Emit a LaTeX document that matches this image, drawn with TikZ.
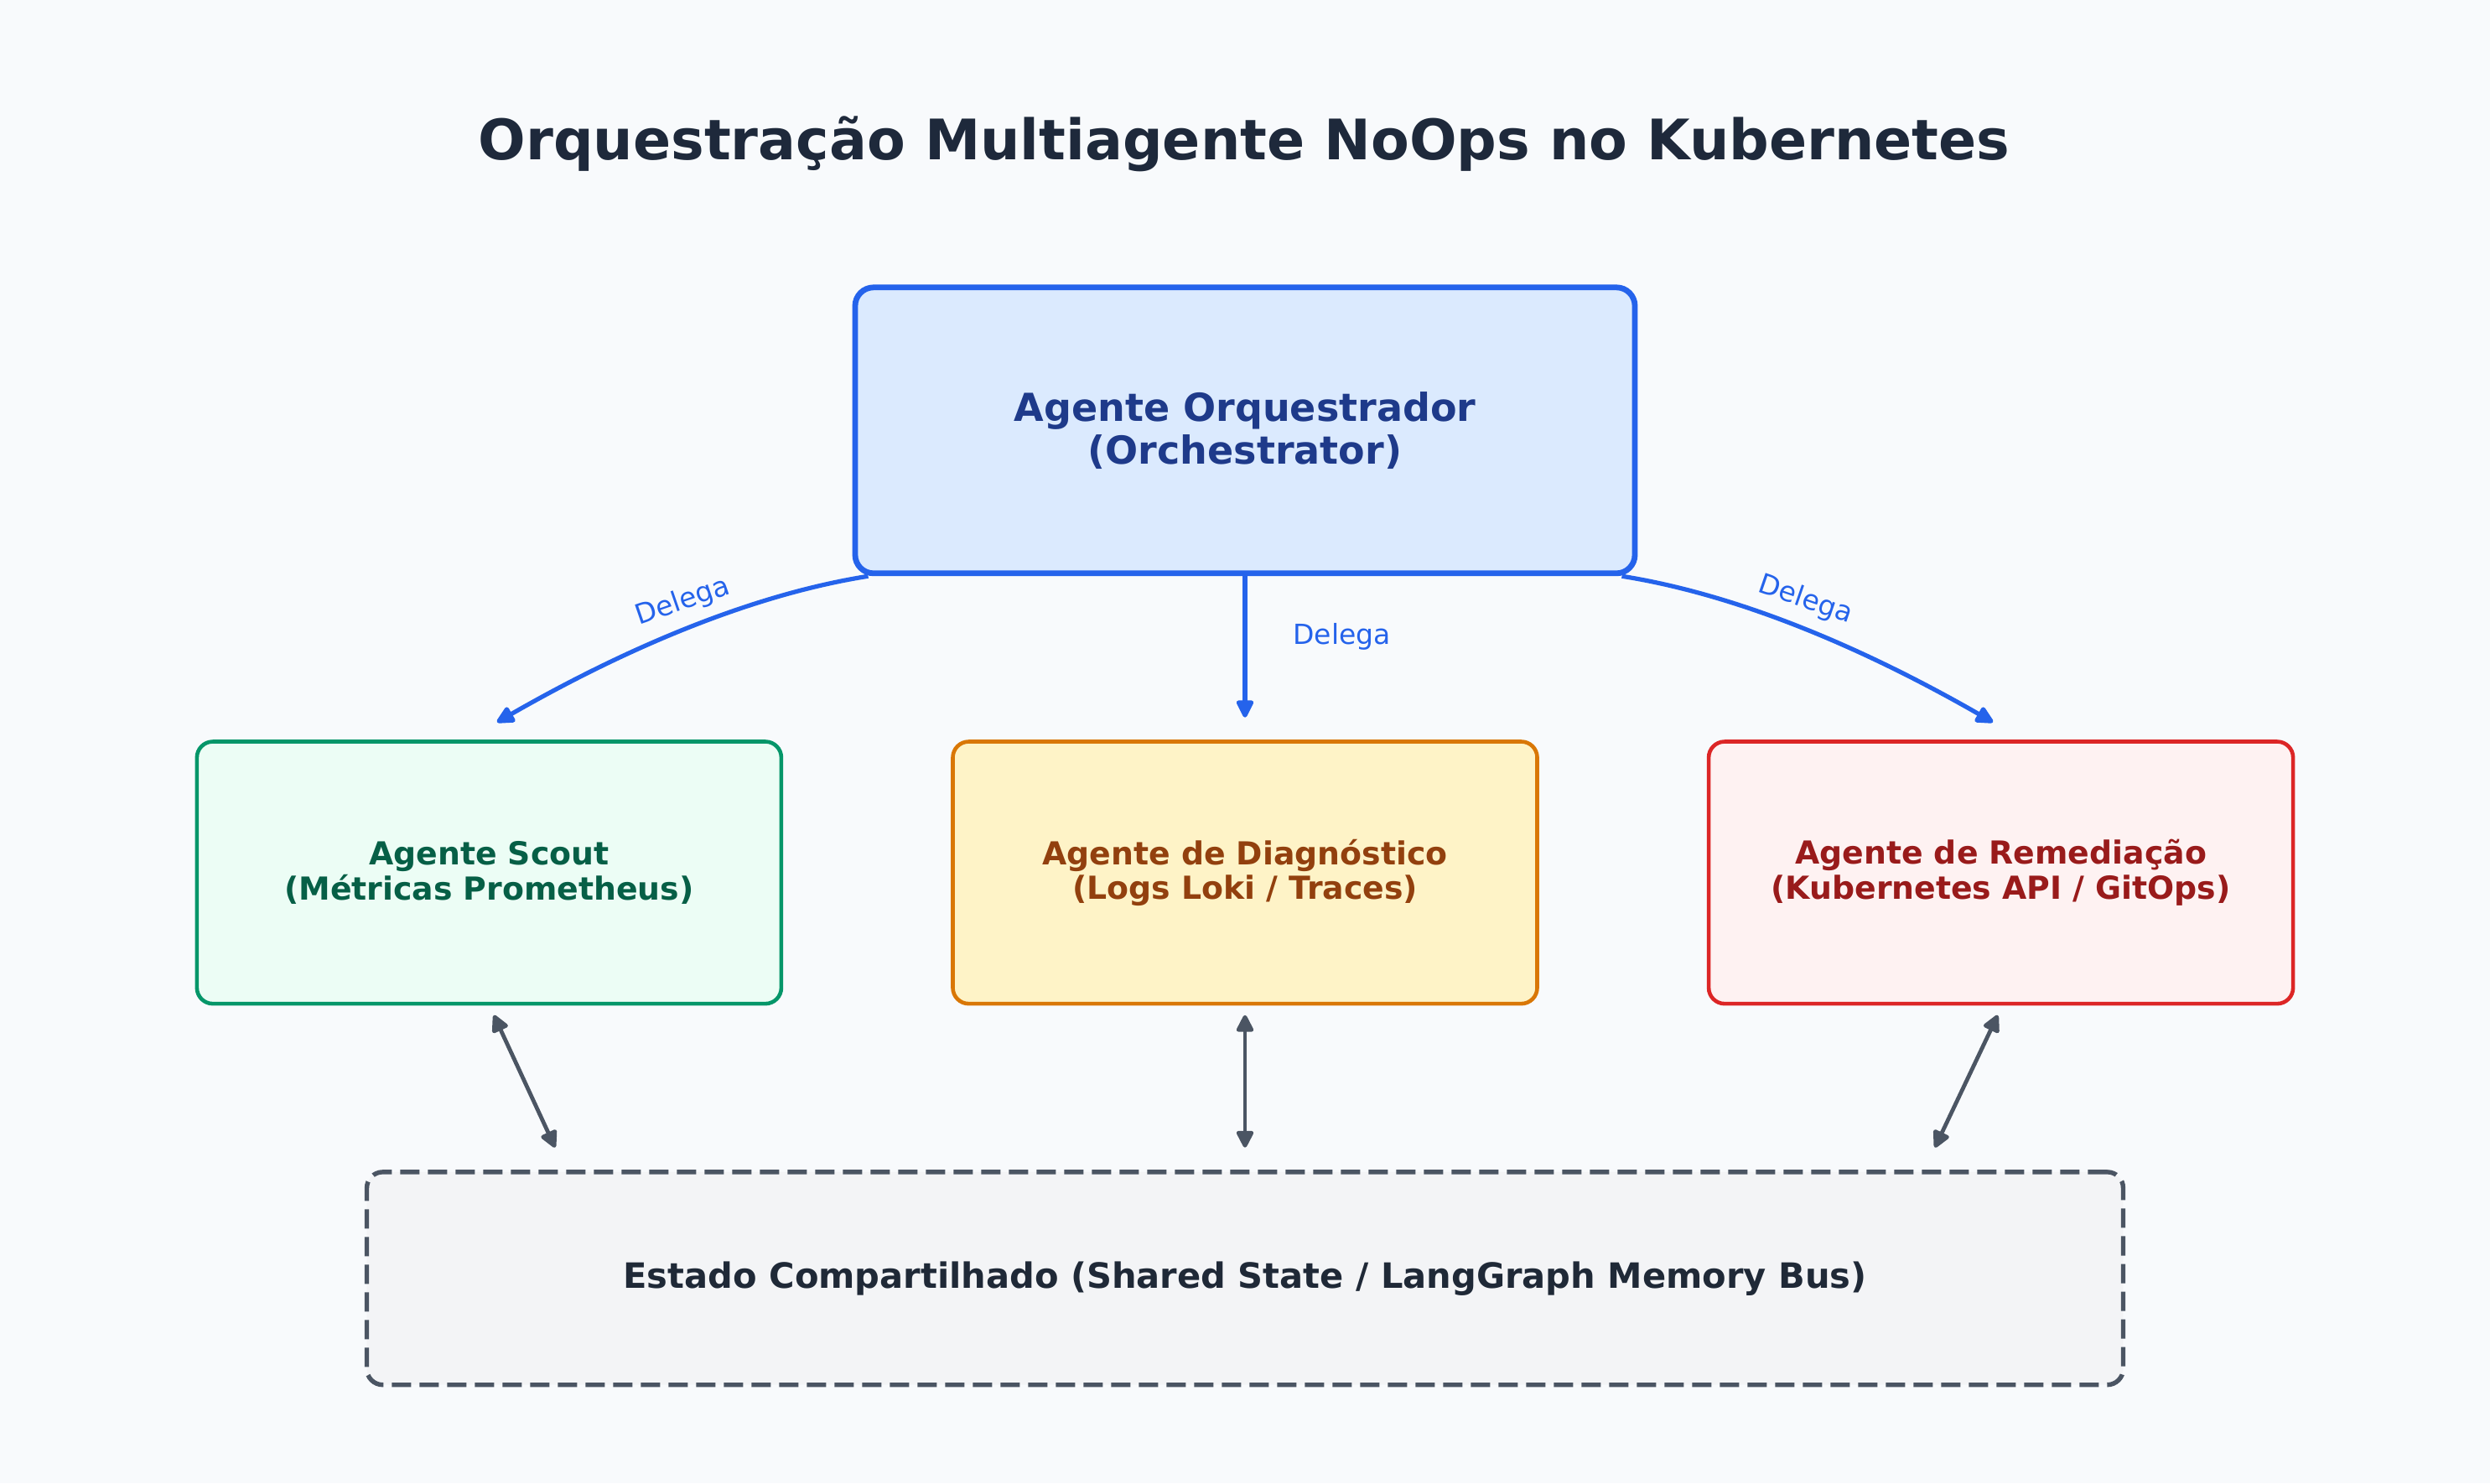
\documentclass[tikz,border=0pt]{standalone}
\usepackage{fontspec}
\setmainfont{DejaVu Sans}
\usetikzlibrary{arrows.meta,calc}
\definecolor{bgc}{HTML}{F8FAFC}
\definecolor{titlec}{HTML}{1E293B}
\definecolor{orchfill}{HTML}{DBEAFE}
\definecolor{orchdraw}{HTML}{2563EB}
\definecolor{orchtext}{HTML}{1E3A8A}
\definecolor{scoutfill}{HTML}{ECFDF5}
\definecolor{scoutdraw}{HTML}{059669}
\definecolor{scouttext}{HTML}{065F46}
\definecolor{diagfill}{HTML}{FEF3C7}
\definecolor{diagdraw}{HTML}{D97706}
\definecolor{diagtext}{HTML}{92400E}
\definecolor{remfill}{HTML}{FEF2F2}
\definecolor{remdraw}{HTML}{DC2626}
\definecolor{remtext}{HTML}{991B1B}
\definecolor{statefill}{HTML}{F3F4F6}
\definecolor{statedraw}{HTML}{4B5563}
\definecolor{statetext}{HTML}{1F2937}
\tikzset{
  agentbox/.style={draw, line width=2.3pt, rounded corners=9.5pt, minimum width=348.5pt, minimum height=156.3pt, align=center, inner sep=0pt,
    font=\fontsize{18.9}{20.8}\selectfont\bfseries},
  orchbox/.style={draw=orchdraw, fill=orchfill, text=orchtext, line width=3.4pt, rounded corners=11pt, minimum width=465pt, minimum height=170.5pt, align=center, inner sep=0pt,
    font=\fontsize{23}{25.6}\selectfont\bfseries},
  statebox/.style={draw=statedraw, fill=statefill, text=statetext, line width=2.7pt, rounded corners=9.5pt, dash pattern=on 11.5pt off 5pt,
    minimum width=1047.4pt, minimum height=126.9pt, inner sep=0pt, font=\fontsize{20.8}{23}\selectfont\bfseries},
  delegarrow/.style={draw=orchdraw, line width=2.6pt, -{Triangle[length=12pt,width=11pt,round]}},
  delegalabel/.style={text=orchdraw, font=\fontsize{16.5}{18}\selectfont, inner sep=0pt},
  busarrow/.style={draw=statedraw, line width=2.4pt, {Triangle[length=11.5pt,width=11pt,round]}-{Triangle[length=11.5pt,width=11pt,round]}},
}
\begin{document}
\begin{tikzpicture}[x=0.947pt,y=-0.947pt]
\fill[bgc] (0,0) rectangle (1568,934);
\useasboundingbox (0,0) rectangle (1568,934);

\node[text=titlec, font=\fontsize{33.3}{38}\selectfont\bfseries, inner sep=0pt] (title) at (783.5,90.5) {Orquestração Multiagente NoOps no Kubernetes};

\node[orchbox] (orch) at (784,271) {Agente Orquestrador\\(Orchestrator)};

\node[agentbox, draw=scoutdraw, fill=scoutfill, text=scouttext] (scout) at (308,549.5) {Agente Scout\\(Métricas Prometheus)};
\node[agentbox, draw=diagdraw, fill=diagfill, text=diagtext] (diag) at (784,549.5) {Agente de Diagnóstico\\(Logs Loki / Traces)};
\node[agentbox, draw=remdraw, fill=remfill, text=remtext] (rem) at (1260,549.5) {Agente de Remediação\\(Kubernetes API / GitOps)};

\node[statebox] (state) at (784,805) {Estado Compartilhado (Shared State / LangGraph Memory Bus)};

% delegation arrows
\coordinate (ls) at ($(orch.south west)+(10,0)$);
\coordinate (le) at ($(scout.north)+(5,-11)$);
\coordinate (rs) at ($(orch.south east)+(-10,0)$);
\coordinate (re) at ($(rem.north)+(-5,-11)$);
\coordinate (ms) at (orch.south);
\coordinate (me) at ($(diag.north)+(0,-14)$);

\draw[delegarrow] (ls) .. controls (476,374) and (398,406) .. (le);
\draw[delegarrow] (rs) .. controls (1092,374) and (1170,406) .. (re);
\draw[delegarrow] (ms) -- (me);

\node[delegalabel, rotate=19] (l1) at (430,379) {Delega};
\node[delegalabel, rotate=-19] (l3) at (1137,378) {Delega};
\node[delegalabel] (l2) at (845,401) {Delega};

% shared state arrows
\coordinate (a1) at ($(scout.south)+(3,6)$);
\coordinate (b1) at ($(state.north west)+(120,-14)$);
\coordinate (a2) at ($(diag.south)+(0,6)$);
\coordinate (b2) at ($(state.north)+(0,-14)$);
\coordinate (a3) at ($(rem.south)+(-2,6)$);
\coordinate (b3) at ($(state.north east)+(-120,-14)$);
\draw[busarrow] (a1) -- (b1);
\draw[busarrow] (a2) -- (b2);
\draw[busarrow] (a3) -- (b3);
\end{tikzpicture}
\end{document}
